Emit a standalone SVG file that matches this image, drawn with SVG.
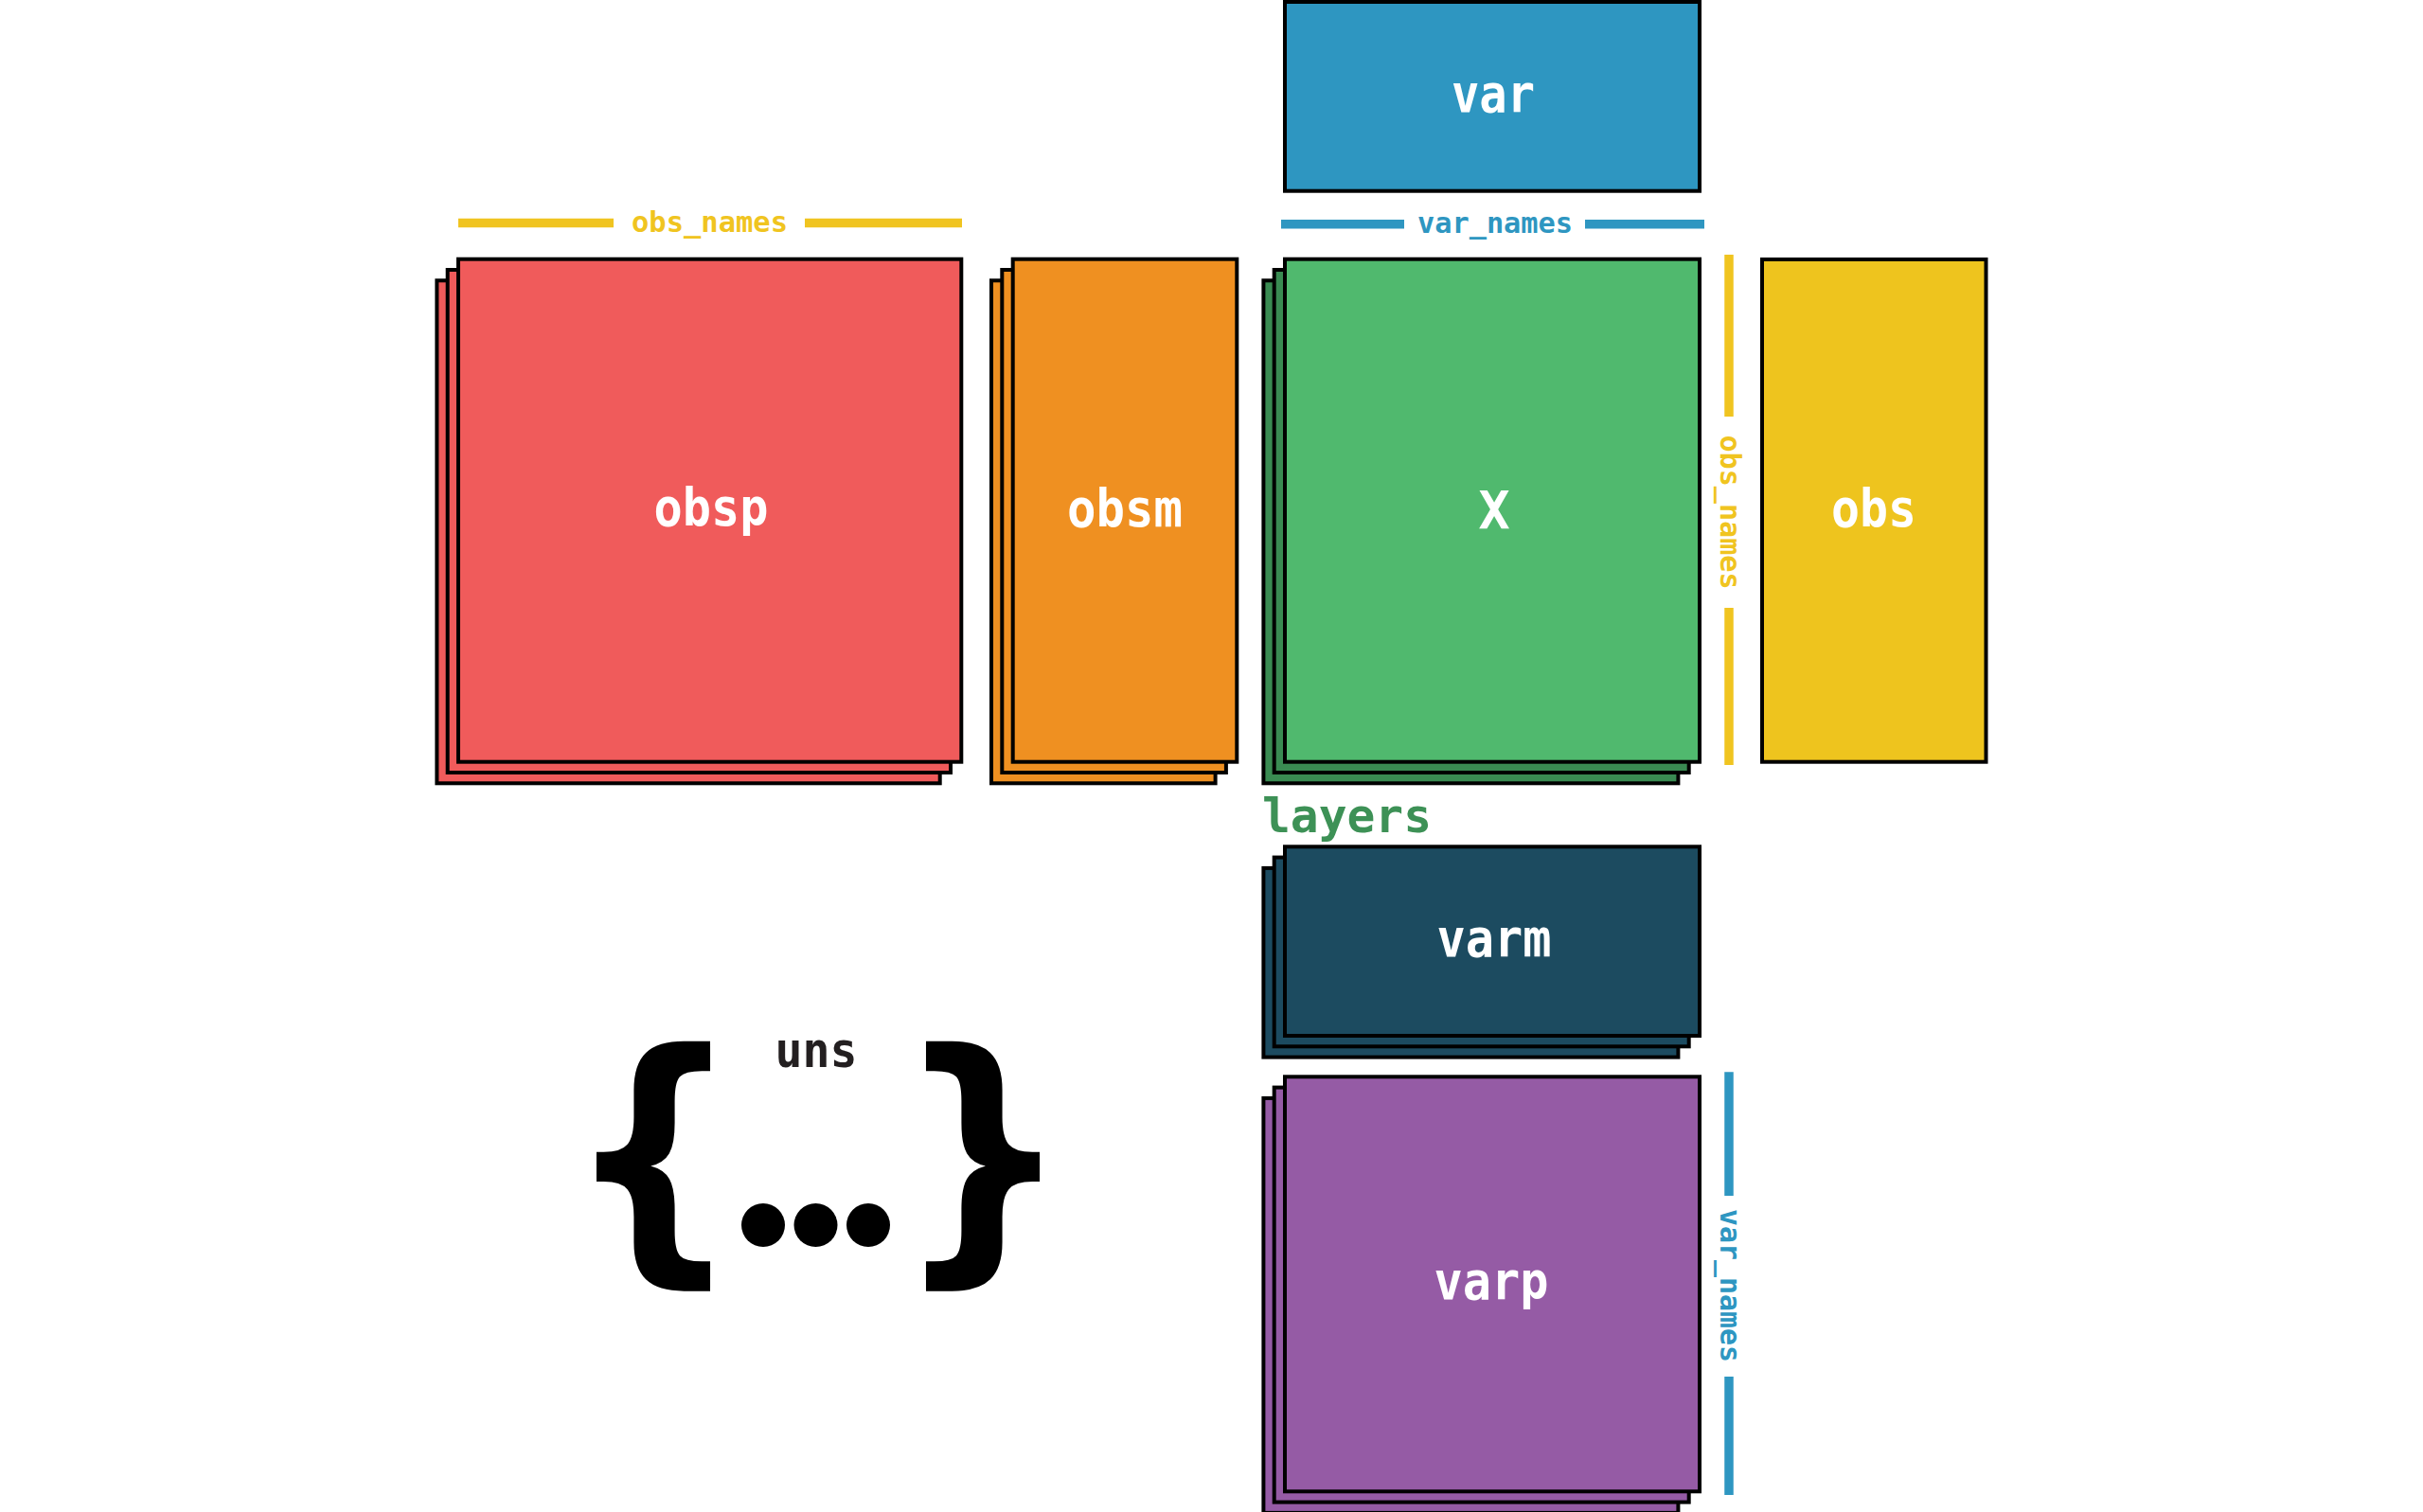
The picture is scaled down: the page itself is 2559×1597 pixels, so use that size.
<svg xmlns="http://www.w3.org/2000/svg" width="2559" height="1597" viewBox="0 0 2559 1597">
<style>
.box{stroke:#000;stroke-width:4}
.lbl{font-family:"DejaVu Sans Mono","Liberation Mono",monospace;font-weight:bold;font-size:55px;fill:#fff;text-anchor:middle}
.nm{font-family:"DejaVu Sans Mono","Liberation Mono",monospace;font-weight:bold;font-size:31px;text-anchor:middle}
.brace{font-family:"DejaVu Sans",sans-serif;font-weight:bold;font-size:286px;fill:#000;text-anchor:middle}
.ruler{stroke-width:9.5;stroke-linecap:butt}
.red{fill:#F05B5B}.orange{fill:#EF9021}.green{fill:#50B96E}.dgreen{fill:#3A8B52}
.yellow{fill:#EEC41E}.blue{fill:#2E96C1}.teal{fill:#1C4B60}.purple{fill:#955BA5}
</style>
<rect width="2559" height="1597" fill="#fff"/>

<g id="var">
<rect class="box blue" x="1357" y="2" width="438" height="199.7"/>
<text class="lbl" x="1577" y="118" textLength="88" lengthAdjust="spacingAndGlyphs">var</text>
</g>

<g id="obsp">
<rect class="box red" x="461.4" y="296.3" width="531.3" height="531"/>
<rect class="box red" x="472.7" y="285" width="531.3" height="531"/>
<rect class="box red" x="484" y="273.7" width="531.3" height="531"/>
<text class="lbl" x="751" y="555" textLength="121" lengthAdjust="spacingAndGlyphs">obsp</text>
</g>

<g id="obsm">
<rect class="box orange" x="1047" y="296.3" width="236.6" height="531"/>
<rect class="box orange" x="1058.3" y="285" width="236.6" height="531"/>
<rect class="box orange" x="1069.7" y="273.7" width="236.6" height="531"/>
<text class="lbl" x="1188" y="556" textLength="122" lengthAdjust="spacingAndGlyphs">obsm</text>
</g>

<g id="X">
<rect class="box dgreen" x="1334.4" y="296.3" width="438" height="531"/>
<rect class="box dgreen" x="1345.7" y="285" width="438" height="531"/>
<rect class="box green" x="1357" y="273.7" width="438" height="531"/>
<text class="lbl" x="1578" y="558">X</text>
</g>

<g id="obs">
<rect class="box yellow" x="1861" y="274" width="236.5" height="530.7"/>
<text class="lbl" x="1979" y="556" textLength="90" lengthAdjust="spacingAndGlyphs">obs</text>
</g>

<g id="layers">
<text x="1333" y="879" font-family="'DejaVu Sans Mono','Liberation Mono',monospace" font-weight="bold" font-size="50" fill="#3D9156" textLength="179" lengthAdjust="spacingAndGlyphs">layers</text>
</g>

<g id="varm">
<rect class="box teal" x="1334.4" y="916.9" width="438" height="199.7"/>
<rect class="box teal" x="1345.7" y="905.6" width="438" height="199.7"/>
<rect class="box teal" x="1357" y="894.3" width="438" height="199.7"/>
<text class="lbl" x="1578" y="1010" textLength="121" lengthAdjust="spacingAndGlyphs">varm</text>
</g>

<g id="varp">
<rect class="box purple" x="1334.4" y="1159.9" width="438" height="438"/>
<rect class="box purple" x="1345.7" y="1148.6" width="438" height="438"/>
<rect class="box purple" x="1357" y="1137.3" width="438" height="438"/>
<text class="lbl" x="1575" y="1372" textLength="121" lengthAdjust="spacingAndGlyphs">varp</text>
</g>

<g id="uns">
<text class="brace" x="690" y="1317" textLength="185" lengthAdjust="spacingAndGlyphs">{</text>
<text class="brace" x="1038" y="1317" textLength="185" lengthAdjust="spacingAndGlyphs">}</text>
<text x="862" y="1127" font-family="'DejaVu Sans Mono','Liberation Mono',monospace" font-weight="bold" font-size="52" fill="#231F20" text-anchor="middle" textLength="87" lengthAdjust="spacingAndGlyphs">uns</text>
<circle cx="806" cy="1294" r="23" fill="#000"/>
<circle cx="861.5" cy="1294" r="23" fill="#000"/>
<circle cx="917" cy="1294" r="23" fill="#000"/>
</g>

<g id="connectors">
<g stroke="#F0C420" class="ruler">
<line x1="484" y1="235.5" x2="648" y2="235.5"/>
<line x1="850" y1="235.5" x2="1016" y2="235.5"/>
<line x1="1826" y1="269" x2="1826" y2="440"/>
<line x1="1826" y1="642" x2="1826" y2="808"/>
</g>
<g stroke="#2E96C1" class="ruler">
<line x1="1353" y1="236.8" x2="1483" y2="236.8"/>
<line x1="1674" y1="236.8" x2="1800" y2="236.8"/>
<line x1="1826" y1="1132.3" x2="1826" y2="1263"/>
<line x1="1826" y1="1454" x2="1826" y2="1579"/>
</g>
<text class="nm" x="749.5" y="245" fill="#F0C420" textLength="165" lengthAdjust="spacingAndGlyphs">obs_names</text>
<text class="nm" x="1579" y="246" fill="#2E96C1" textLength="164" lengthAdjust="spacingAndGlyphs">var_names</text>
<text class="nm" transform="translate(1817 541) rotate(90)" x="0" y="0" fill="#F0C420" textLength="163" lengthAdjust="spacingAndGlyphs">obs_names</text>
<text class="nm" transform="translate(1817 1358) rotate(90)" x="0" y="0" fill="#2E96C1" textLength="162" lengthAdjust="spacingAndGlyphs">var_names</text>
</g>
</svg>
